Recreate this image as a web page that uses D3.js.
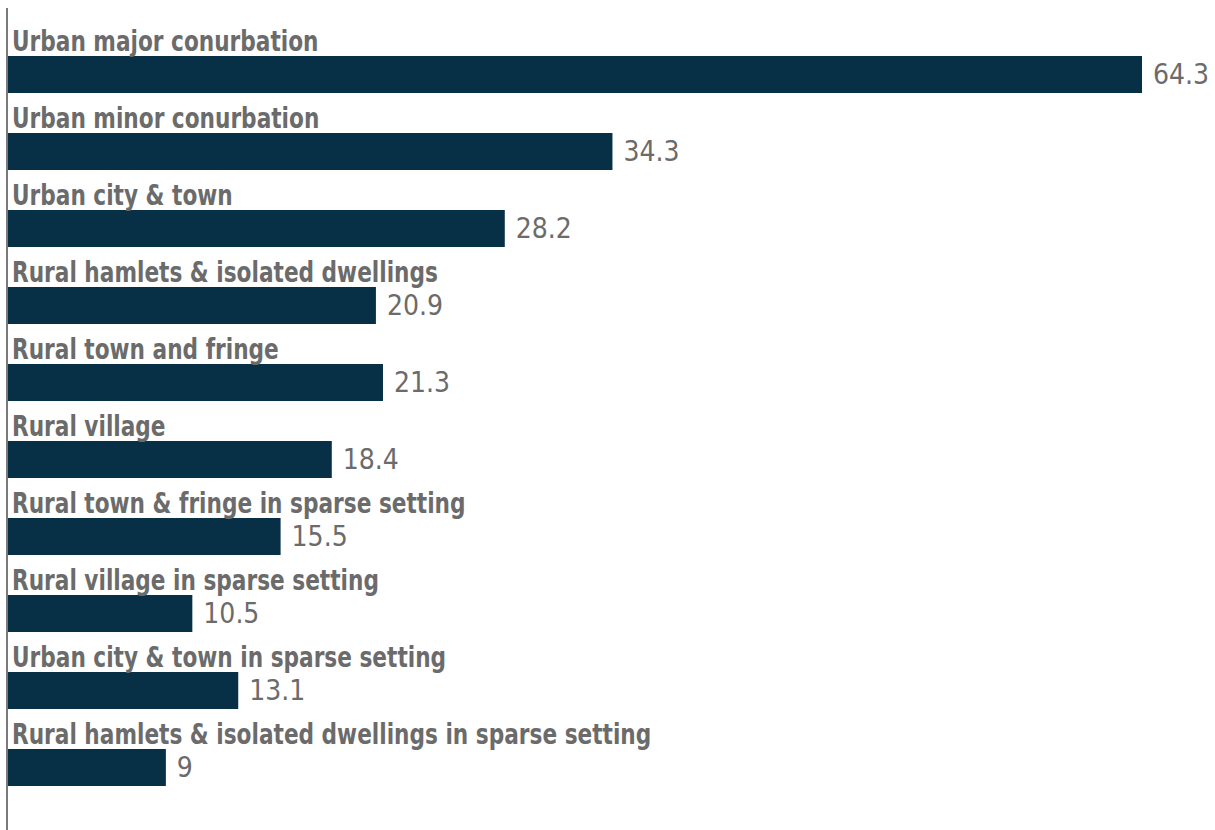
<!DOCTYPE html>
<html>
<head>
<meta charset="utf-8">
<script src="https://cdn.jsdelivr.net/npm/d3@7"></script>
<style>
  body { margin: 0; background: #fff; }
  text { font-family: "DejaVu Sans Condensed", "Liberation Sans Narrow", sans-serif; }
</style>
</head>
<body>
<div id="chart"></div>
<script>
const categories = [
  "Urban major conurbation",
  "Urban minor conurbation",
  "Urban city & town",
  "Rural hamlets & isolated dwellings",
  "Rural town and fringe",
  "Rural village",
  "Rural town & fringe in sparse setting",
  "Rural village in sparse setting",
  "Urban city & town in sparse setting",
  "Rural hamlets & isolated dwellings in sparse setting"
]
const values = [64.3, 34.3, 28.2, 20.9, 21.3, 18.4, 15.5, 10.5, 13.1, 9]

const width = 1215,
      height = 830,
      margin = {top: 10, right: 30, bottom: 50, left: 7}

const data = categories.map((c, i) => ({name: c, value: values[i]}))

const x = d3.scaleLinear()
    .domain([0, 64.3])
    .range([margin.left, 1142])

const y = d3.scaleBand()
    .domain(categories)
    .range([margin.top, margin.top + 77 * categories.length])

const svg = d3.select("#chart")
  .append("svg")
  .attr("width", width)
  .attr("height", height)
  .attr("viewBox", [0, 0, width, height])

const row = svg.append("g")
  .selectAll("g")
  .data(data)
  .join("g")
    .attr("transform", d => `translate(0,${y(d.name)})`)

row.append("rect")
    .attr("x", x(0))
    .attr("y", 46)
    .attr("width", d => x(d.value) - x(0))
    .attr("height", 37)
    .attr("fill", "#073046")

// category labels, squeezed to match the condensed face of the original
row.append("text")
    .attr("transform", "translate(12,41) scale(0.86,1)")
    .attr("fill", "#6b6b6b")
    .attr("font-size", 28)
    .attr("font-weight", "bold")
    .text(d => d.name)

row.append("text")
    .attr("x", d => x(d.value) + 11)
    .attr("y", 64.5)
    .attr("dy", "0.35em")
    .attr("fill", "#6b6b6b")
    .attr("font-size", 28)
    .text(d => d.value)

// left axis line
svg.append("line")
    .attr("x1", margin.left)
    .attr("x2", margin.left)
    .attr("y1", 8)
    .attr("y2", height)
    .attr("stroke", "#7a7a7a")
    .attr("stroke-width", 2)
</script>
</body>
</html>
